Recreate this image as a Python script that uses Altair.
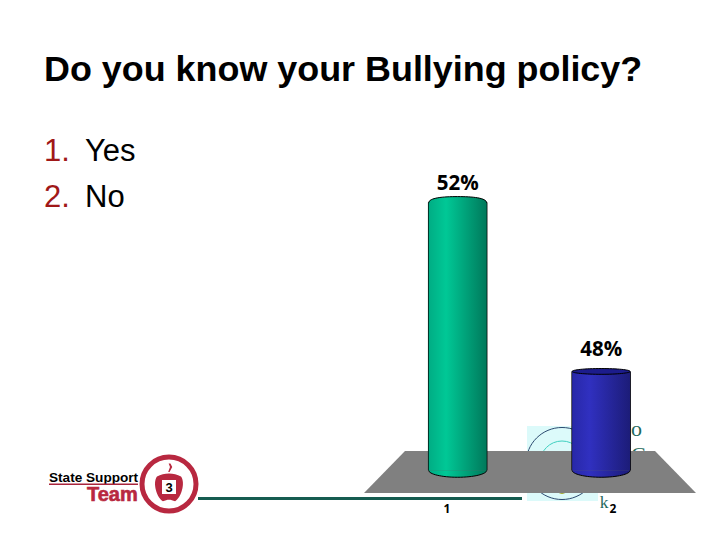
import pandas as pd
import altair as alt

# values
categories = ["1", "2"]
shares = [52, 48]
share_labels = ["52%", "48%"]
bar_colors = [
    ["#00ad84", "#00c896", "#00795b"],
    ["#2828a8", "#3030c0", "#1c1c78"],
]
list_numbers = ["1.", "2."]
list_items = ["Yes", "No"]
title_text = "Do you know your Bullying policy?"


# pixel helpers, the page has an 8px margin
def px(v):
    return alt.value(v - 8)


# y axis is truncated in the reference, 52 sits near y=203 and 48 near y=371
y_scale = alt.Scale(domain=[44.2, 56.6], nice=False, zero=False)
x_scale = alt.Scale(domain=[-2.1, 2.738], nice=False, zero=False)
BASE = 45.66

df = pd.DataFrame({"cat": [1, 2], "share": shares, "label": share_labels, "base": [BASE, BASE]})

x_enc = alt.X("cat:Q", scale=x_scale, axis=None)
y_enc = alt.Y("share:Q", scale=y_scale, axis=None)
y_base = alt.Y("base:Q", scale=y_scale, axis=None)


def gradient(stops):
    return alt.Gradient(
        gradient="linear", x1=0, x2=1, y1=0, y2=0,
        stops=[
            alt.GradientStop(color=stops[0], offset=0),
            alt.GradientStop(color=stops[1], offset=0.3),
            alt.GradientStop(color=stops[2], offset=1),
        ],
    )


CIRCLE = "M-1,0A1,1 0 1,1 1,0A1,1 0 1,1 -1,0Z"
BOTTOM = "M-1,0A1,0.24 0 0,0 1,0"
GREEN_TOP = "M-1,0.02C-1,-0.16 -0.5,-0.2 0,-0.2C0.5,-0.2 1,-0.16 1,0.02"
BLUE_TOP = "M-1,0A1,0.1 0 1,1 1,0A1,0.1 0 1,1 -1,0Z"
FLOOR = "M-0.753,-0.1265L0.753,-0.1265L1,0.1265L-1,0.1265Z"
APPLE = "M-0.75,-0.6C-0.3,-0.85 0.3,-0.85 0.75,-0.6C1.05,-0.2 0.75,0.75 0.38,0.95C0.1,0.82 -0.1,0.82 -0.38,0.95C-0.75,0.75 -1.05,-0.2 -0.75,-0.6Z"
STEM = "M-0.3,-1L0.1,-1L0.5,-0.2L-0.1,0.9L-0.4,0.9L0,-0.2Z"


def shape_at(x, y, path, size, **kw):
    return alt.Chart(pd.DataFrame({"a": [0]})).mark_point(
        shape=path, size=size, filled=True, opacity=1, **kw
    ).encode(x=px(x), y=px(y))


def ring_at(x, y, diameter, color, width):
    return alt.Chart(pd.DataFrame({"a": [0]})).mark_point(
        shape=CIRCLE, size=diameter ** 2, filled=False, stroke=color, strokeWidth=width, opacity=1
    ).encode(x=px(x), y=px(y))


def text_at(x, y, s, size, font="Liberation Sans", color="#000000", weight="normal", align="left", **kw):
    return alt.Chart(pd.DataFrame({"t": [s]})).mark_text(
        font=font, fontSize=size, color=color, fontWeight=weight, align=align, baseline="alphabetic", **kw
    ).encode(x=px(x), y=px(y), text="t:N")


def rect_at(x, x2, y, y2, color):
    return alt.Chart(pd.DataFrame({"a": [0]})).mark_rect(color=color).encode(
        x=px(x), x2=px(x2), y=px(y), y2=px(y2)
    )


layers = []

# text block
layers.append(text_at(44, 80.5, title_text, 35.9, weight="bold"))
for i, (n, item) in enumerate(zip(list_numbers, list_items)):
    yy = 161 + i * 46
    layers.append(text_at(44, yy, n, 31, color="#a01818"))
    layers.append(text_at(85, yy, item, 31))

# leftover picture behind the chart
layers.append(rect_at(527, 598, 426, 501, "#dcfafa"))
layers.append(ring_at(562, 463.5, 72, "#2c4a70", 1))
layers.append(ring_at(562, 463, 44, "#40d0c0", 1))
layers.append(shape_at(562, 489, CIRCLE, 10 ** 2, color="#a8b040"))
layers.append(text_at(631, 436, "o", 22, font="Liberation Serif", color="#1f6a5c"))
layers.append(text_at(631, 462, "C", 22, font="Liberation Serif", color="#1f6a5c"))

# floor and rule
layers.append(shape_at(530, 472, FLOOR, 332 ** 2, color="#808080"))
layers.append(rect_at(198, 522, 497, 500, "#155c50"))

# cylinders
top_paths = [GREEN_TOP, BLUE_TOP]
label_dy = [-12.5, -15.5]
for i in range(2):
    one = df.iloc[[i]]
    fill = gradient(bar_colors[i])
    layers.append(
        alt.Chart(one).mark_bar(size=59.5, color="#000000").encode(x=x_enc, y=y_enc, y2=alt.Y2("base:Q"))
    )
    layers.append(
        alt.Chart(one).mark_point(shape=BOTTOM, size=58 ** 2, filled=True, opacity=1,
                                  fill=fill, stroke="#000000", strokeWidth=1)
        .encode(x=x_enc, y=y_base)
    )
    layers.append(
        alt.Chart(one).mark_bar(size=58, fill=fill).encode(x=x_enc, y=y_enc, y2=alt.Y2("base:Q"))
    )
    layers.append(
        alt.Chart(one).mark_point(shape=top_paths[i], size=58 ** 2, filled=True, opacity=1,
                                  fill=fill if i == 0 else "#1c1c8c", stroke="#000000", strokeWidth=1)
        .encode(x=x_enc, y=y_enc)
    )
    # share label
    layers.append(
        alt.Chart(one).mark_text(font="Open Sans", fontSize=20.5, fontWeight="bold", color="#000000",
                                 baseline="alphabetic", dy=label_dy[i])
        .encode(x=x_enc, y=y_enc, text="label:N")
    )

# category labels, they sit off centre in the reference
layers.append(text_at(447, 513, categories[0], 12, font="Open Sans", weight="bold", align="center"))
layers.append(text_at(604, 508, "k", 17.5, font="Liberation Serif", color="#1f6a5c", align="center"))
layers.append(text_at(613, 513, categories[1], 12, font="Open Sans", weight="bold", align="center"))

# logo
layers.append(text_at(49, 482, "State Support", 13.6, weight="bold"))
layers.append(rect_at(49, 138, 483.5, 485, "#a8243c"))
layers.append(text_at(87, 501, "Team", 20, weight="bold", color="#b82840", stroke="#b82840", strokeWidth=0.6))
layers.append(ring_at(169, 484, 54, "#b82840", 5))
layers.append(shape_at(169, 486, APPLE, 32 ** 2, color="#b82840"))
layers.append(shape_at(170, 468, STEM, 9 ** 2, color="#b82840"))
layers.append(rect_at(162, 176, 480, 494, "#ffffff"))
layers.append(text_at(169, 492, "3", 13, weight="bold", align="center"))

chart = alt.layer(*layers).properties(
    width=704, height=524, padding=0, autosize=alt.AutoSizeParams(type="none")
).configure_view(strokeWidth=0)

chart.save("out.html", embed_options={"renderer": "svg", "actions": False})
